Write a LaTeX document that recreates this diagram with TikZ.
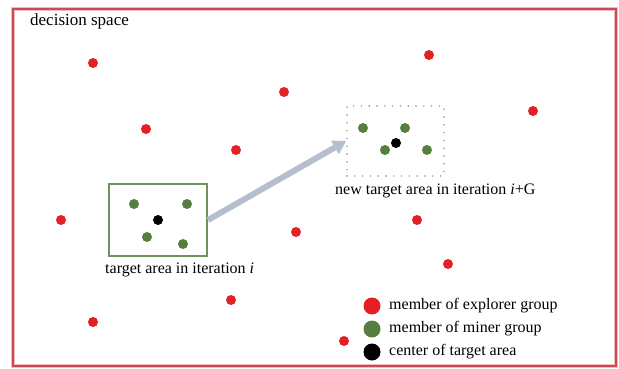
\documentclass[tikz,border=0pt]{standalone}
\usepackage{fontspec}
\setmainfont{Liberation Serif}
\usetikzlibrary{arrows.meta}
\definecolor{explred}{RGB}{228,32,36}
\definecolor{minergreen}{RGB}{86,126,62}
\definecolor{boxgreen}{RGB}{112,146,92}
\definecolor{frame}{RGB}{204,72,84}
\definecolor{arrowgray}{RGB}{180,190,204}
\definecolor{dotgray}{RGB}{140,132,120}
\tikzset{
  expl/.style={circle,fill=explred,draw=none,inner sep=0pt,minimum size=10pt},
  miner/.style={circle,fill=minergreen,draw=none,inner sep=0pt,minimum size=10pt},
  centre/.style={circle,fill=black,draw=none,inner sep=0pt,minimum size=10pt},
  legdot/.style={circle,draw=none,inner sep=0pt,minimum size=17pt},
  lbl/.style={font=\fontsize{16}{19}\selectfont,inner sep=0pt,anchor=west},
  area/.style={draw=boxgreen,line width=2pt,inner sep=0pt},
  newarea/.style={draw=dotgray,line width=1.6pt,dash pattern=on 0pt off 7.8pt,line cap=round,inner sep=0pt},
  move/.style={draw=arrowgray,line width=6pt,-{Triangle[length=13pt,width=15pt]}}
}
\begin{document}
\begin{tikzpicture}[x=1pt,y=-1pt]
\useasboundingbox (0,0) rectangle (619,369);
% decision space frame
\draw[frame!35,line width=4pt] (13,9) rectangle (616,366);
\draw[frame,line width=1.8pt] (13,9) rectangle (616,366);
\node[lbl,font=\fontsize{17}{20}\selectfont] (title) at (30,21) {decision space};

% explorer group scattered over the space
\node[expl] (e1) at (93,63) {};
\node[expl] (e2) at (429,55) {};
\node[expl] (e3) at (284,92) {};
\node[expl] (e4) at (533,111) {};
\node[expl] (e5) at (146,129) {};
\node[expl] (e6) at (236,150) {};
\node[expl] (e7) at (61,220) {};
\node[expl] (e8) at (296,232) {};
\node[expl] (e9) at (417,220) {};
\node[expl] (e10) at (448,264) {};
\node[expl] (e11) at (231,300) {};
\node[expl] (e12) at (93,322) {};
\node[expl] (e13) at (344,341) {};

% target area in iteration i
\node[area,minimum width=98pt,minimum height=72pt] (gbox) at (158,220) {};
\node[miner] (m1) at (134,204) {};
\node[miner] (m2) at (187,204) {};
\node[miner] (m3) at (147,237) {};
\node[miner] (m4) at (183,244) {};
\node[centre] (c1) at (158,220) {};
\node[lbl] (glabel) at (105,270) {target area in iteration \textit{i}};

% new target area in iteration i+G
\node[newarea,minimum width=97pt,minimum height=70pt] (nbox) at (395.5,141) {};
\node[miner] (n1) at (363,128) {};
\node[miner] (n2) at (405,128) {};
\node[miner] (n3) at (385,150) {};
\node[miner] (n4) at (427,150) {};
\node[centre] (c2) at (396,143) {};
\node[lbl] (nlabel) at (335,191) {new target area in iteration \textit{i}+G};

% movement of the target area
\draw[move] (gbox.east) -- (nbox.west);

% legend
\node[legdot,fill=explred] (l1) at (372,306) {};
\node[legdot,fill=minergreen] (l2) at (372,329) {};
\node[legdot,fill=black] (l3) at (372,352) {};
\node[lbl] (t1) at (389,306) {member of explorer group};
\node[lbl] (t2) at (389,329) {member of miner group};
\node[lbl] (t3) at (389,352) {center of target area};
\end{tikzpicture}
\end{document}
